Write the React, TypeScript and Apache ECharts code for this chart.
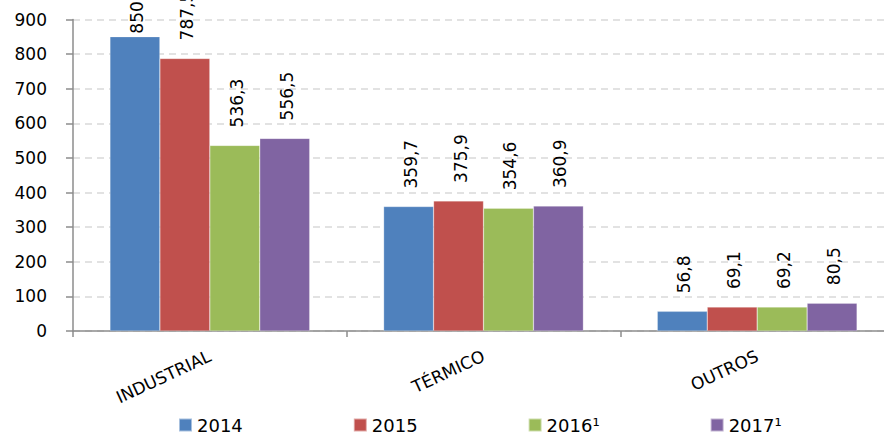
import React, { useEffect, useRef } from "react";
import * as echarts from "echarts";

const categories = ["INDUSTRIAL", "TÉRMICO", "OUTROS"];
const seriesNames = ["2014", "2015", "2016¹", "2017¹"];
const values2014 = [850.4, 359.7, 56.8];
const values2015 = [787.5, 375.9, 69.1];
const values2016 = [536.3, 354.6, 69.2];
const values2017 = [556.5, 360.9, 80.5];
const colors = ["#4F81BD", "#C0504D", "#9BBB59", "#8064A2"];
const yTicks = { min: 0, max: 900, interval: 100 };

const FONT = "DejaVu Sans";

export default function App() {
  const ref = useRef<HTMLDivElement>(null);
  useEffect(() => {
    if (!ref.current) return;
    const chart = echarts.init(ref.current, null, { renderer: "svg" });
    const all = [values2014, values2015, values2016, values2017];
    const fmt = (p: any) => Number(p.value).toFixed(1).replace(".", ",");
    chart.setOption({
      animation: false,
      grid: { left: 73, top: 19.5, bottom: 104, width: 821 },
      legend: {
        data: seriesNames,
        left: 173,
        top: 411,
        itemWidth: 13,
        itemHeight: 13,
        itemGap: 110,
        icon: "rect",
        textStyle: { fontFamily: FONT, fontSize: 18, color: "#000" },
      },
      xAxis: {
        type: "category",
        data: categories,
        axisLine: { lineStyle: { color: "#8c8c8c", width: 1.5 } },
        axisTick: { show: true, length: 6, lineStyle: { color: "#8c8c8c", width: 1.5 } },
        axisLabel: {
          rotate: 25,
          margin: 24,
          fontFamily: FONT,
          fontSize: 17,
          color: "#000",
        },
      },
      yAxis: {
        type: "value",
        min: yTicks.min,
        max: yTicks.max,
        interval: yTicks.interval,
        axisLine: { show: true, lineStyle: { color: "#8c8c8c", width: 1.5 } },
        axisTick: { show: true, length: 7, lineStyle: { color: "#8c8c8c", width: 1.5 } },
        axisLabel: { margin: 26, fontFamily: FONT, fontSize: 17, color: "#000" },
        splitLine: { lineStyle: { color: "#d9d9d9", type: [7, 5], width: 1.5 } },
      },
      series: all.map((vals, i) => ({
        name: seriesNames[i],
        type: "bar",
        barGap: "0%",
        barCategoryGap: "27%",
        itemStyle: { color: colors[i], borderColor: "rgba(255,255,255,0.5)", borderWidth: 0.5 },
        data: vals.map((v, j) =>
          i === 0 && j === 0 ? { value: v, label: { distance: 3 } } : v
        ),
        label: {
          show: true,
          position: "top",
          rotate: 90,
          align: "left",
          verticalAlign: "middle",
          distance: 18,
          offset: [0, 2],
          formatter: fmt,
          fontFamily: FONT,
          fontSize: 17,
          color: "#000",
        },
      })),
    });
    return () => chart.dispose();
  }, []);
  return (
    <div style={{ width: 884, height: 435, position: "absolute", left: 0, top: 0, overflow: "hidden" }}>
      <div ref={ref} style={{ width: 900, height: 435 }} />
    </div>
  );
}
